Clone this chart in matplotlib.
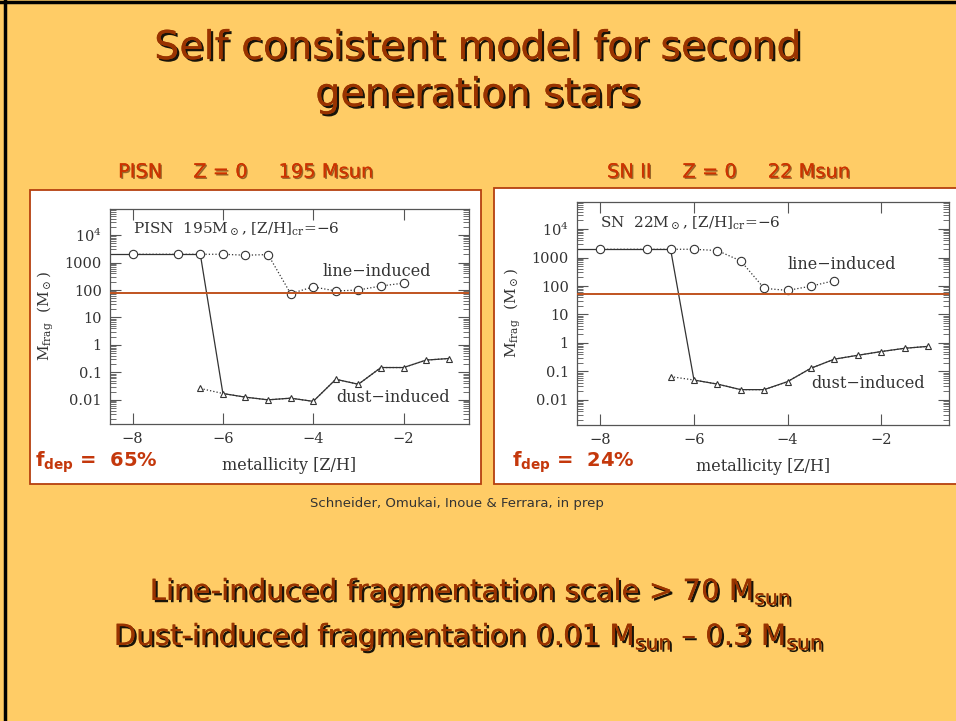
import numpy as np
import matplotlib
matplotlib.use('Agg')
import matplotlib.pyplot as plt
import matplotlib.patheffects as pe
from matplotlib.patches import Rectangle
from matplotlib.lines import Line2D
from matplotlib.ticker import LogLocator, FixedLocator, FixedFormatter, NullFormatter

plt.rcParams.update({
    'font.family': 'DejaVu Sans',
    'mathtext.fontset': 'custom',
    'mathtext.rm': 'DejaVu Serif',
    'mathtext.it': 'DejaVu Serif:italic',
    'mathtext.bf': 'DejaVu Sans:bold',
    'mathtext.sf': 'DejaVu Sans',
})

# fragmentation mass vs metallicity, PISN 195 Msun progenitor
z_line_pisn = [-8, -7, -6.5, -6, -5.5, -5, -4.5, -4, -3.5, -3, -2.5, -2]
m_line_pisn = [2000, 2000, 2000, 2000, 1850, 1950, 74, 130, 92, 100, 140, 178]
z_dust = [-6.5, -6, -5.5, -5, -4.5, -4, -3.5, -3, -2.5, -2, -1.5, -1]
m_dust_pisn = [0.026, 0.017, 0.0125, 0.010, 0.0115, 0.0088, 0.056, 0.037,
               0.15, 0.15, 0.28, 0.32]

# SN II 22 Msun progenitor
z_line_sn = [-8, -7, -6.5, -6, -5.5, -5, -4.5, -4, -3.5, -3]
m_line_sn = [1950, 1950, 1950, 1950, 1760, 760, 83, 70, 99, 154]
m_dust_sn = [0.066, 0.05, 0.036, 0.023, 0.023, 0.044, 0.13, 0.27, 0.37,
             0.50, 0.65, 0.76]

z_cr = -6
m_thresh_pisn = 76
m_thresh_sn = 53

ytick_vals = [0.01, 0.1, 1, 10, 100, 1000, 1e4]
ytick_text = ['0.01', '0.1', '1', '10', '100', '1000', r'$10^4$']
xtick_vals = [-8, -6, -4, -2]

BG = '#ffcc66'
BROWN = '#993300'
RED = '#c4380c'
W, H = 956, 721

fig = plt.figure(figsize=(W / 100, H / 100), dpi=100)
fig.patch.set_facecolor(BG)


def fx(x):
    return x / W


def fy(y):
    return 1 - y / H


shadow = [pe.withSimplePatchShadow(offset=(1.6, -1.6), shadow_rgbFace='black',
                                   alpha=0.9), pe.Normal()]
shadow_small = [pe.withSimplePatchShadow(offset=(1, -1), shadow_rgbFace='#552200',
                                         alpha=0.6), pe.Normal()]

# slide frame
fig.add_artist(Line2D([fx(5), fx(5)], [0, 1], color='black', lw=2.5))
fig.add_artist(Line2D([0, 1], [fy(1.5), fy(1.5)], color='black', lw=2.5))

fig.text(0.5, fy(48), 'Self consistent model for second', ha='center', va='center',
         fontsize=28.5, color=BROWN, path_effects=shadow)
fig.text(0.5, fy(95), 'generation stars', ha='center', va='center',
         fontsize=28.5, color=BROWN, path_effects=shadow)

fig.text(fx(118), fy(172), 'PISN     Z = 0     195 Msun', ha='left', va='center',
         fontsize=14, color='#cc3300', path_effects=shadow_small)
fig.text(fx(607), fy(172), 'SN II     Z = 0     22 Msun', ha='left', va='center',
         fontsize=14, color='#cc3300', path_effects=shadow_small)

# white panel boxes
for x0, y0, x1, y1 in [(30, 190, 481, 484), (494, 188, 960, 484)]:
    fig.add_artist(Rectangle((fx(x0), fy(y1)), fx(x1 - x0), (y1 - y0) / H,
                             facecolor='white', edgecolor='#b5400f', lw=1.3,
                             transform=fig.transFigure, zorder=0))


def draw_panel(rect, z_line, m_line, m_dust, m_thresh, label, txt_line, txt_dust):
    ax = fig.add_axes(rect)
    ax.set_facecolor('white')
    ax.set_yscale('log')
    ax.set_xlim(-8.5, -0.55)
    ax.set_ylim(10 ** -2.88, 10 ** 4.95)

    # line-induced and dust-induced sequences
    ax.plot(z_line, m_line, ls=':', color='#333333', lw=0.9, marker='o', ms=6,
            mfc='white', mec='#333333', mew=0.8, zorder=3)
    ax.plot(z_dust, m_dust, ls=':', color='#333333', lw=0.9, marker='^', ms=4.5,
            mfc='white', mec='#333333', mew=0.8, zorder=3)

    # self-consistent path: line-cooling branch down to the dust branch at Z_cr
    i_cr = z_line.index(z_cr)
    j_cr = z_dust.index(z_cr)
    ax.hlines(m_line[0], -8.5, z_line[i_cr - 1], color='#333333', lw=0.9, zorder=2)
    ax.plot([z_line[i_cr - 1]] + z_dust[j_cr:],
            [m_line[i_cr - 1]] + m_dust[j_cr:], color='#333333', lw=0.9, zorder=2)

    ax.axhline(m_thresh, color='#c0531f', lw=1.4, zorder=4)

    ax.text(-8.0, 10 ** 4.2, label, fontsize=11, family='DejaVu Serif',
            color='#333333', va='center', ha='left')
    ax.text(txt_line[0], txt_line[1], 'line\u2212induced', fontsize=11.5,
            family='DejaVu Serif', color='#333333', va='center', ha='left')
    ax.text(txt_dust[0], txt_dust[1], 'dust\u2212induced', fontsize=11.5,
            family='DejaVu Serif', color='#333333', va='center', ha='left')

    ax.yaxis.set_major_locator(FixedLocator(ytick_vals))
    ax.yaxis.set_major_formatter(FixedFormatter(ytick_text))
    ax.yaxis.set_minor_locator(LogLocator(base=10, subs=np.arange(2, 10), numticks=20))
    ax.yaxis.set_minor_formatter(NullFormatter())
    ax.xaxis.set_major_locator(FixedLocator(xtick_vals))
    ax.set_xticklabels(['\u2212%d' % abs(v) for v in xtick_vals])
    ax.tick_params(which='both', direction='in', top=True, right=True,
                   color='#555555', labelcolor='#333333')
    ax.tick_params(which='major', length=8, width=0.8, labelsize=10.5, pad=6)
    ax.tick_params(which='minor', length=4, width=0.6)
    for lab in ax.get_xticklabels() + ax.get_yticklabels():
        lab.set_family('DejaVu Serif')
    for s in ax.spines.values():
        s.set_color('#555555')
        s.set_linewidth(0.9)

    ax.set_xlabel('metallicity [Z/H]', fontsize=11.5, family='DejaVu Serif',
                  color='#333333', labelpad=8)
    ax.set_ylabel(r'M$_{\rm frag}$  (M$_\odot$)', fontsize=11, family='DejaVu Serif',
                  color='#333333', labelpad=6)
    return ax


draw_panel([fx(110), fy(424), fx(469 - 110), (424 - 209) / H],
           z_line_pisn, m_line_pisn, m_dust_pisn, m_thresh_pisn,
           r'PISN  195M$_\odot$, [Z/H]$_{\rm cr}$=$-$6',
           (-3.8, 10 ** 2.68), (-3.5, 10 ** -1.9))
draw_panel([fx(577), fy(425), fx(949 - 577), (425 - 202) / H],
           z_line_sn, m_line_sn, m_dust_sn, m_thresh_sn,
           r'SN  22M$_\odot$, [Z/H]$_{\rm cr}$=$-$6',
           (-4.0, 10 ** 2.76), (-3.5, 10 ** -1.44))

fig.text(fx(35), fy(462), r'f$_{\mathbf{dep}}$ =  65%', fontsize=14, fontweight='bold',
         color=RED, ha='left', va='center')
fig.text(fx(512), fy(462), r'f$_{\mathbf{dep}}$ =  24%', fontsize=14, fontweight='bold',
         color=RED, ha='left', va='center')

fig.text(fx(457), fy(503), 'Schneider, Omukai, Inoue & Ferrara, in prep',
         fontsize=9.5, color='#333333', ha='center', va='center')

fig.text(fx(470), fy(592), r'Line-induced fragmentation scale > 70 M$_{\mathsf{sun}}$',
         fontsize=21, color=BROWN, ha='center', va='center', path_effects=shadow)
fig.text(fx(468), fy(637),
         'Dust-induced fragmentation 0.01 M$_{\\mathsf{sun}}$ \u2013 0.3 M$_{\\mathsf{sun}}$',
         fontsize=21, color=BROWN, ha='center', va='center', path_effects=shadow)

fig.savefig('out.png', dpi=100, facecolor=BG)
